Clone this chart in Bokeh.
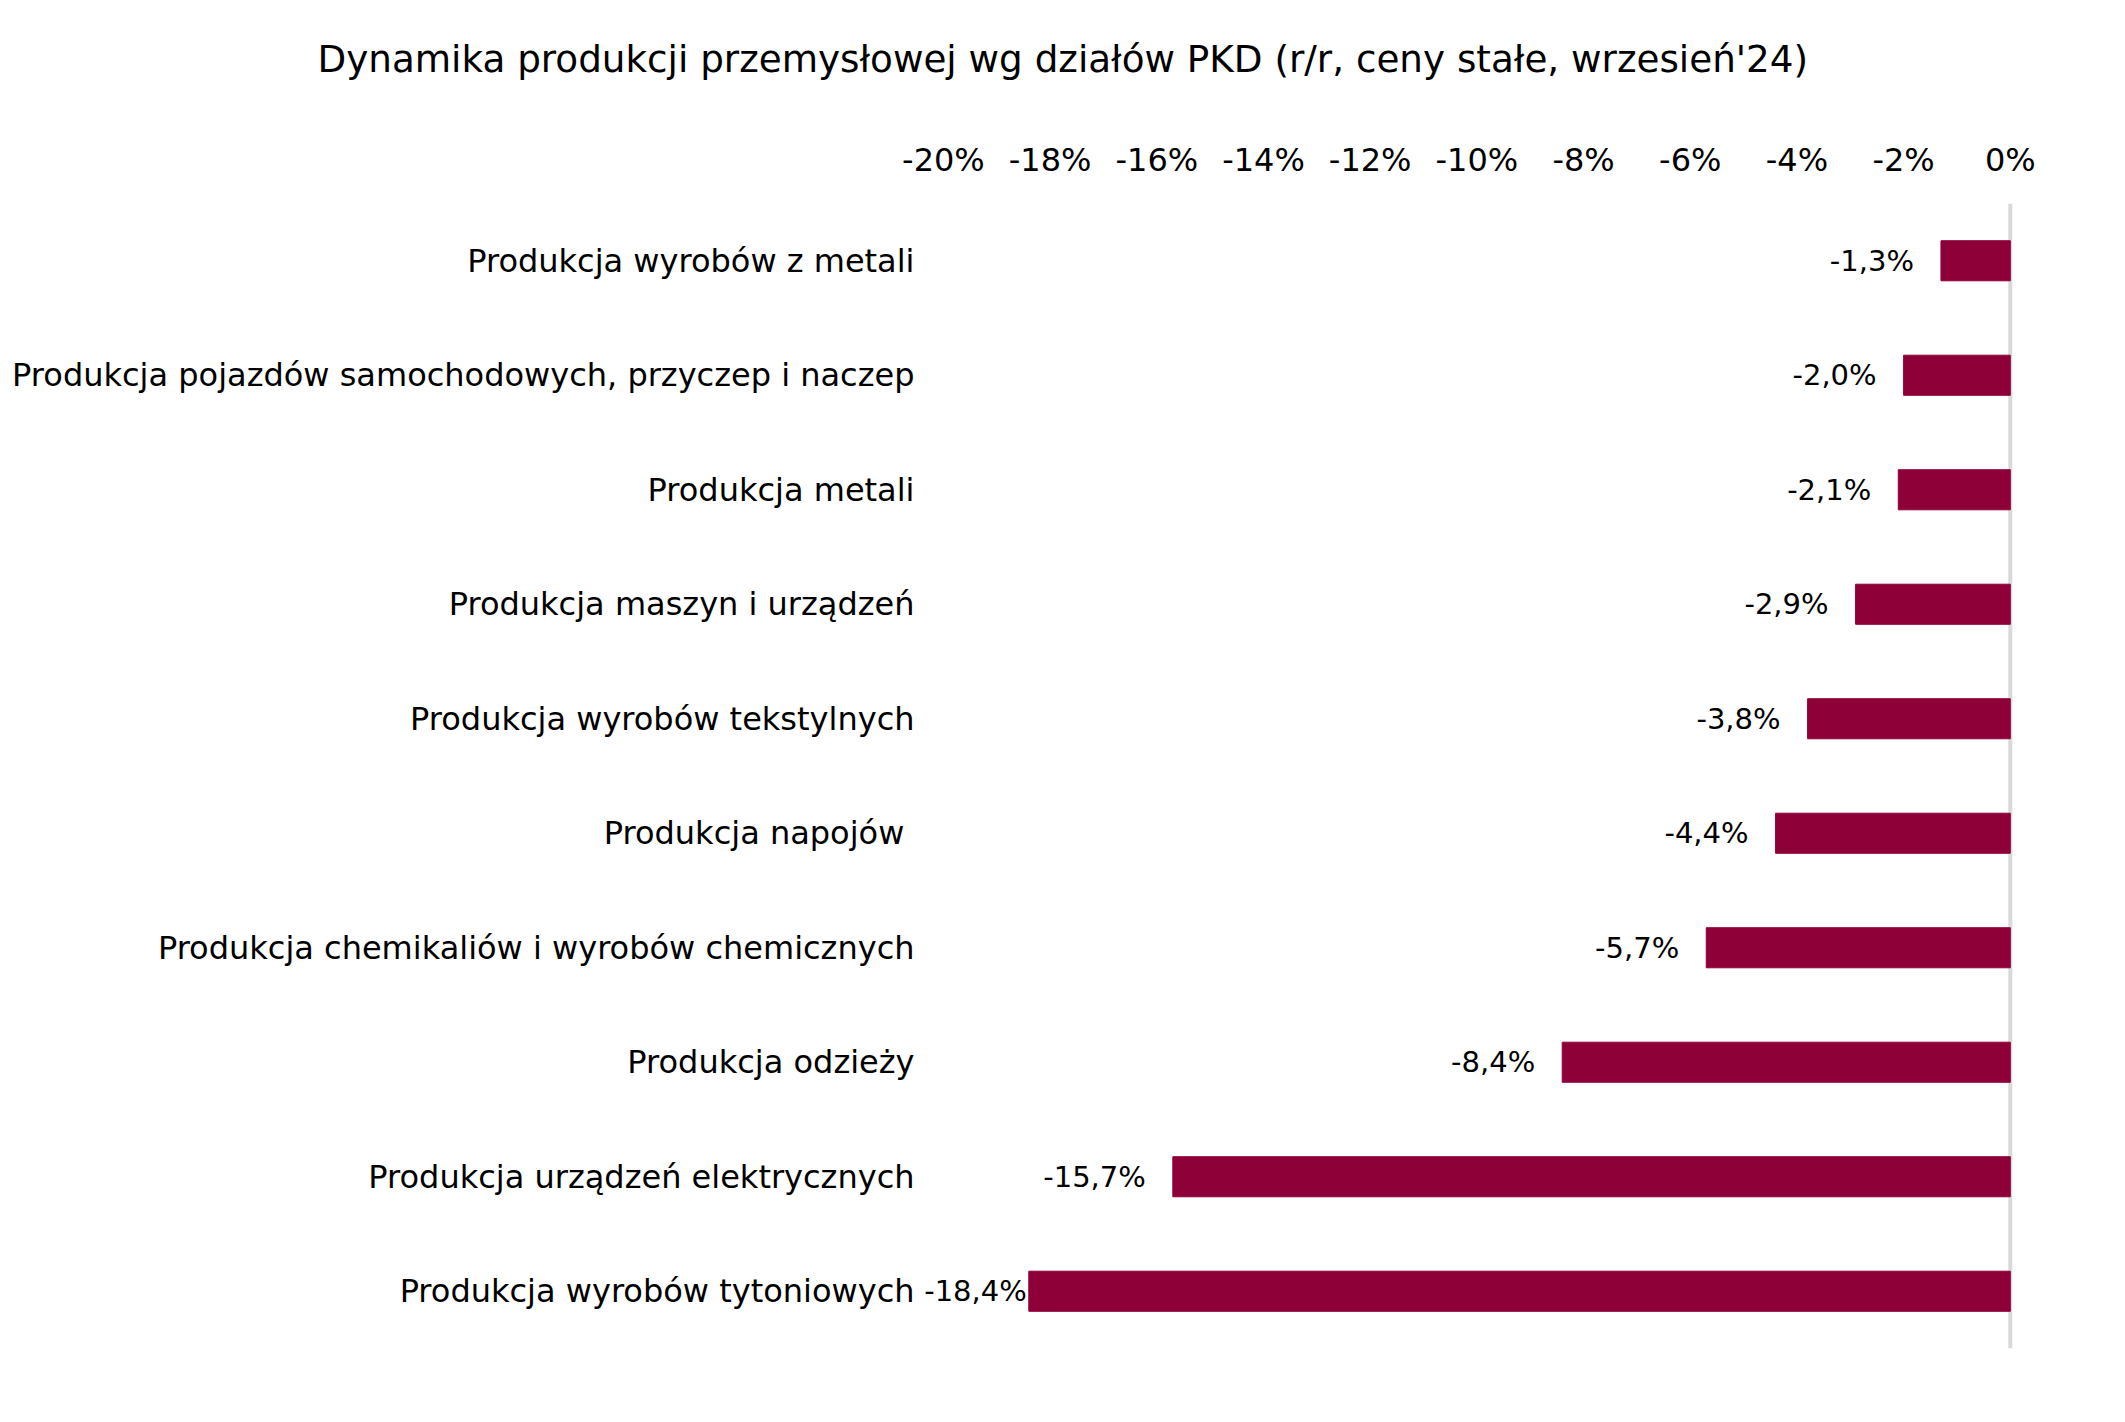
from bokeh.plotting import figure
from bokeh.models import FactorRange, Range1d, Span, FixedTicker, CustomJSTickFormatter, ColumnDataSource, LabelSet
from bokeh.core.properties import value
from bokeh.embed import file_html
from bokeh.resources import INLINE

# Data (top to bottom)
categories = [
    "Produkcja wyrobów z metali",
    "Produkcja pojazdów samochodowych, przyczep i naczep",
    "Produkcja metali",
    "Produkcja maszyn i urządzeń",
    "Produkcja wyrobów tekstylnych",
    "Produkcja napojów ",
    "Produkcja chemikaliów i wyrobów chemicznych",
    "Produkcja odzieży",
    "Produkcja urządzeń elektrycznych",
    "Produkcja wyrobów tytoniowych",
]
values = [-1.3, -2.0, -2.1, -2.9, -3.8, -4.4, -5.7, -8.4, -15.7, -18.4]
tick_values = [-20, -18, -16, -14, -12, -10, -8, -6, -4, -2, 0]

title = "Dynamika produkcji przemysłowej wg działów PKD (r/r, ceny stałe, wrzesień'24)"
FONT = "DejaVu Sans"
BAR = "#8E0038"

labels = [f"{v:.1f}".replace(".", ",") + "%" for v in values]
offsets = [-27 if v > -17 else -2 for v in values]
src = ColumnDataSource(dict(cat=categories, val=values, zero=[0] * len(values),
                            lab=labels, off=offsets))

p = figure(
    width=2125, height=1422,
    y_range=FactorRange(*reversed(categories), range_padding=0),
    x_range=Range1d(-20.43, 0.06),
    x_axis_location="above",
    output_backend="svg", toolbar_location=None,
    min_border_left=920, min_border_right=112,
    min_border_top=203, min_border_bottom=74,
)
p.title.text = title + "\n"
p.title.text_font = FONT
p.title.text_font_size = "37.3px"
p.title.text_font_style = "normal"
p.title.text_color = "#000000"
p.title.align = "left"
p.title.offset = -603
p.title.standoff = 26

p.add_layout(Span(location=0, dimension="height", line_color="#d9d9d9",
                  line_width=4, level="underlay"))

p.hbar(y="cat", left="val", right="zero", height=0.35, source=src,
       fill_color=BAR, line_color=BAR)

p.add_layout(LabelSet(x="val", y="cat", text="lab", source=src, x_offset="off",
                      text_align="right", text_baseline="middle",
                      text_font_size="29px", text_color="#000000",
                      text_font=value(FONT)))

xa = p.xaxis[0]
xa.ticker = FixedTicker(ticks=tick_values)
xa.formatter = CustomJSTickFormatter(code="return tick.toFixed(0) + '%'")
xa.axis_line_color = None
xa.major_tick_line_color = None
xa.minor_tick_line_color = None
xa.major_label_text_font = FONT
xa.major_label_text_font_size = "32px"
xa.major_label_text_color = "#000000"
xa.major_label_standoff = 19

ya = p.yaxis[0]
ya.axis_line_color = None
ya.major_tick_line_color = None
ya.minor_tick_line_color = None
ya.major_label_text_font = FONT
ya.major_label_text_font_size = "32px"
ya.major_label_text_color = "#000000"
ya.major_label_standoff = 0

p.xgrid.visible = False
p.ygrid.visible = False
p.outline_line_color = None
p.background_fill_color = "white"
p.border_fill_color = "white"

open("out.html", "w").write(file_html(p, INLINE))
